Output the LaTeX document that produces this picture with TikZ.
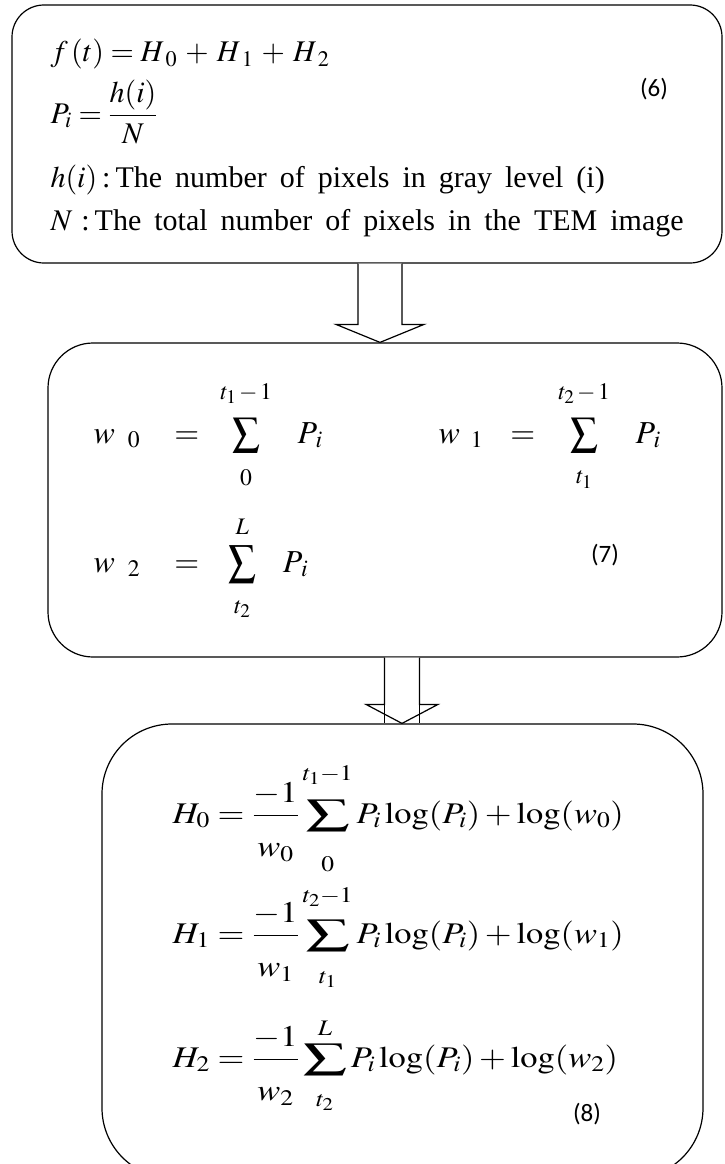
\documentclass[tikz,border=0pt]{standalone}
\usepackage{amsmath}
\usepackage{mathptmx}
\usepackage[no-math]{fontspec}
\setmainfont{Liberation Serif}
\newfontfamily\eqnfont{Carlito}
\usetikzlibrary{calc}

% block arrow: #1 start, #2 tip, #3 shaft half width, #4 head half width, #5 head length
\newcommand{\blockarrow}[5]{%
  \draw[fill=white] let \p1=(#1), \p2=(#2) in
    (\x1-#3,\y1) -- (\x1-#3,\y2+#5) -- (\x1-#4,\y2+#5) -- (\x1,\y2)
    -- (\x1+#4,\y2+#5) -- (\x1+#3,\y2+#5) -- (\x1+#3,\y1);}
\newcommand{\hstretch}[1]{\scalebox{1.15}[1]{#1}}
% sum sign scaled by #1 x #2, lower limit #3 (strut #4), upper limit #5 (strut depth #6)
\newcommand{\limsum}[6]{\mathop{\vcenter{\hbox{\scalebox{#1}[#2]{$\displaystyle\sum$}}}}%
  \limits_{\rule{0pt}{#4}#3}^{#5\rule[-#6]{0pt}{#6}}}
\newcommand{\widespaces}{\spaceskip=13pt plus 2pt\relax}

\begin{document}
\begin{tikzpicture}[x=1pt,y=1pt,line width=1.2pt,
                    box/.style={draw,inner sep=0pt},
                    txt/.style={anchor=base west,inner sep=0pt,
                      font=\fontsize{30}{36}\selectfont\widespaces},
                    weq/.style={anchor=base west,inner sep=0pt,font=\fontsize{32}{38}\selectfont},
                    heq/.style={anchor=base west,inner sep=0pt,font=\fontsize{30}{36}\selectfont},
                    eqno/.style={inner sep=0pt,font=\eqnfont\fontsize{25}{30}\selectfont}]
\useasboundingbox (0,0) rectangle (724,-1164);
\node[box,rounded corners=32,minimum width=710,minimum height=258] (box1) at (367,-134) {};
\node[box,rounded corners=45,minimum width=674,minimum height=314] (box2) at (385,-500) {};
\node[box,rounded corners=70,minimum width=601,minimum height=454] (box3) at (402.5,-951) {};
\coordinate (a1) at ($(box1.south)+(13,0)$);
\coordinate (a2) at ($(box2.south)+(17,0)$);
\blockarrow{a1}{a1 |- box2.north}{22}{44}{18}
\blockarrow{a2}{a2 |- box3.north}{17.5}{36}{19}
\draw ($(a2)+(-17.5,0)$) -- ($(a2 |- box3.north)+(-17.5,0)$)
      ($(a2)+(17.5,0)$) -- ($(a2 |- box3.north)+(17.5,0)$);
\node[txt] (ft) at (50,-62) {$f\,(t) = H_{\hspace{4pt}0} \hspace{4pt}+\hspace{4pt} H_{\hspace{4pt}1} \hspace{4pt}+\hspace{4pt} H_{\hspace{4pt}2}$};
\node[txt] (pi) at (50,-123) {$P_i = \dfrac{h(i)}{N}$};
\node[txt] (hi) at (50,-187) {$h(i)$\,:\,The number of pixels in gray level (i)};
\node[txt] (nn) at (50,-230) {$N$\hspace{9pt}:\,The total number of pixels in the TEM image};
\node[eqno] (n6) at (654,-89) {(6)};
\node[weq] (w0) at (93,-443) {$w_{\hspace{13pt}0}\hspace{27pt} = \hspace{14pt}\limsum{0.85}{0.88}{0}{28pt}{t_{1}\,-\,1}{15pt}\hspace{22pt}P_{\,i}$};
\node[weq] (w1) at (438,-443) {$w_{\hspace{11pt}1}\hspace{20pt} = \hspace{16pt}\limsum{0.85}{0.88}{t_{1}}{26pt}{t_{2}\,-\,1}{15pt}\hspace{22pt}P_{\,i}$};
\node[weq] (w2) at (93,-572) {$w_{\hspace{13pt}2}\hspace{27pt} = \hspace{22pt}\limsum{0.85}{0.95}{t_{2}}{25pt}{L}{7pt}\hspace{23pt}P_{\,i}$};
\node[eqno] (n7) at (605,-555) {(7)};
\node[heq] (h0) at (172,-823) {\hstretch{$H_0 = \dfrac{-1}{\rule{0pt}{37pt}w_0}\limsum{1.25}{0.85}{0}{35pt}{t_1-1}{16pt}P_i\log(P_i) + \log(w_0)$}};
\node[heq] (h1) at (172,-943) {\hstretch{$H_1 = \dfrac{-1}{\rule{0pt}{37pt}w_1}\limsum{1.25}{0.85}{t_1}{27pt}{t_2-1}{14pt}P_i\log(P_i) + \log(w_1)$}};
\node[heq] (h2) at (172,-1067) {\hstretch{$H_2 = \dfrac{-1}{\rule{0pt}{37pt}w_2}\limsum{1.25}{0.85}{t_2}{26pt}{L}{5pt}P_i\log(P_i) + \log(w_2)$}};
\node[eqno] (n8) at (587,-1114) {(8)};
\end{tikzpicture}
\end{document}
